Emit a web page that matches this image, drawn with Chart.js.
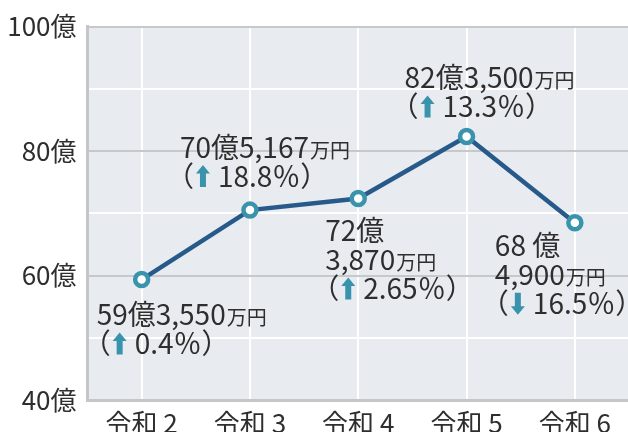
<!DOCTYPE html>
<html><head><meta charset="utf-8">
<script src="https://cdn.jsdelivr.net/npm/chart.js@4.4.1/dist/chart.umd.min.js"></script>
<style>
html,body{margin:0;padding:0;background:#fff;overflow:hidden;}
#wrap{width:640px;height:432px;position:relative;}
</style></head>
<body><div id="wrap"><canvas id="c"></canvas></div>
<script>
const categories = ['令和 2', '令和 3', '令和 4', '令和 5', '令和 6'];
const values = [59.355, 70.5167, 72.387, 82.35, 68.49];
const amountLines = [
  [['59億3,550', '万円']],
  [['70億5,167', '万円']],
  [['72億', ''], ['3,870', '万円']],
  [['82億3,500', '万円']],
  [['68 億', ''], ['4,900', '万円']]
];
const changes = ['0.4', '18.8', '2.65', '13.3', '16.5'];
const directions = ['up', 'up', 'up', 'up', 'down'];
const yMin = 40, yMax = 100, yStep = 10, yLabelStep = 20;

// layout (label offsets from each point, pixels)
const labelOffsets = [[-45, 35], [-70, -63], [-33, 32], [-62, -59], [-80, 23]];
const FONT = '"Noto Sans CJK JP", "Noto Sans", sans-serif';
const TEXT = '#2e2e2e';
const TEAL = '#3a93ad';
const BIG = 28, SMALL = 20, LINE_H = 29;

function drawArrow(ctx, cx, cy, dir) {
  ctx.save();
  ctx.fillStyle = TEAL;
  ctx.translate(cx, cy);
  if (dir === 'down') ctx.scale(1, -1);
  ctx.beginPath();
  ctx.moveTo(0, -11);
  ctx.lineTo(7, -2.5);
  ctx.lineTo(3, -2.5);
  ctx.lineTo(3, 11);
  ctx.lineTo(-3, 11);
  ctx.lineTo(-3, -2.5);
  ctx.lineTo(-7, -2.5);
  ctx.closePath();
  ctx.fill();
  ctx.restore();
}

const bgPlugin = {
  id: 'bg',
  beforeDraw(chart) {
    const {ctx, chartArea: a} = chart;
    ctx.save();
    ctx.fillStyle = '#e8ebef';
    ctx.fillRect(a.left, a.top, a.right - a.left, a.bottom - a.top);
    ctx.restore();
  }
};

const labelPlugin = {
  id: 'labels',
  afterDatasetsDraw(chart) {
    const ctx = chart.ctx;
    const meta = chart.getDatasetMeta(0);
    ctx.save();
    ctx.textBaseline = 'middle';
    ctx.textAlign = 'left';
    ctx.fillStyle = TEXT;
    meta.data.forEach((pt, i) => {
      const x0 = pt.x + labelOffsets[i][0];
      let y = pt.y + labelOffsets[i][1];
      amountLines[i].forEach(l => {
        ctx.font = BIG + 'px ' + FONT;
        ctx.fillText(l[0], x0, y);
        const w = ctx.measureText(l[0]).width;
        if (l[1]) {
          ctx.font = SMALL + 'px ' + FONT;
          ctx.fillText(l[1], x0 + w + 1, y + 3);
        }
        y += LINE_H;
      });
      // change line: （ arrow value％）
      ctx.font = BIG + 'px ' + FONT;
      ctx.fillText('（', x0 - 14, y);
      drawArrow(ctx, x0 + 23, y, directions[i]);
      ctx.fillText(changes[i] + '％）', x0 + 38, y);
    });
    ctx.restore();
  }
};

new Chart(document.getElementById('c'), {
  type: 'line',
  data: {
    labels: categories,
    datasets: [{
      data: values,
      borderColor: '#275a8a',
      borderWidth: 4.5,
      pointRadius: 6.5,
      pointBorderWidth: 4.5,
      pointBackgroundColor: '#ffffff',
      pointBorderColor: TEAL,
      tension: 0
    }]
  },
  options: {
    responsive: true,
    maintainAspectRatio: false,
    animation: false,
    layout: {padding: {left: 0, right: 6.5, top: 21, bottom: 0}},
    plugins: {legend: {display: false}, tooltip: {enabled: false}},
    scales: {
      x: {
        offset: true,
        grid: {color: '#ffffff', lineWidth: 2, drawTicks: false, offset: false},
        border: {display: true, color: '#c4c6c8', width: 3},
        ticks: {color: TEXT, font: {family: FONT, size: 26}, padding: 8},
        afterFit(s) { s.height = 32; }
      },
      y: {
        min: yMin, max: yMax,
        grid: {
          color: c => (c.tick && c.tick.value % yLabelStep === 0) ? '#c6c8ca' : '#ffffff',
          lineWidth: 2, drawTicks: false
        },
        border: {display: true, color: '#c4c6c8', width: 3},
        ticks: {
          stepSize: yStep, color: TEXT, font: {family: FONT, size: 26}, padding: 11,
          callback: v => (v % yLabelStep === 0) ? v + '億' : ''
        },
        afterFit(s) { s.width = 87.5; }
      }
    }
  },
  plugins: [bgPlugin, labelPlugin]
});
</script></body></html>
